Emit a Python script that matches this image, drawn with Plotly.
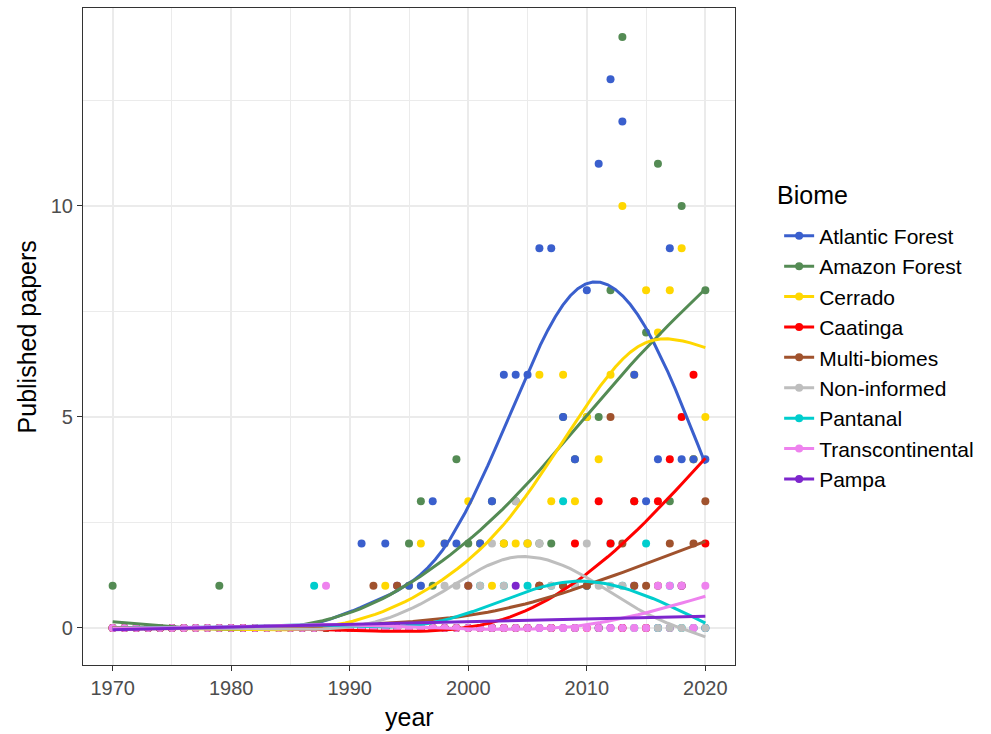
import numpy as np
import plotly.graph_objects as go

years = list(range(1970, 2021))

biomes = ["Atlantic Forest", "Amazon Forest", "Cerrado", "Caatinga", "Multi-biomes",
          "Non-informed", "Pantanal", "Transcontinental", "Pampa"]
colors = ["#3A5FCD", "#548B54", "#FFD700", "#FF0000", "#A0522D",
          "#BEBEBE", "#00CDCD", "#EE82EE", "#7D26CD"]

# yearly counts (all other years are 0);
# some counts are estimated where points overlap each other
atlantic_forest = {1991: 2, 1993: 2, 1995: 1, 1996: 1, 1997: 3, 1998: 2, 1999: 2, 2001: 2,
                   2002: 3, 2003: 6, 2004: 6, 2005: 6, 2006: 9, 2007: 9, 2008: 5, 2009: 4,
                   2010: 8, 2011: 11, 2012: 13, 2013: 12, 2014: 6, 2015: 3, 2016: 4,
                   2017: 9, 2018: 4, 2019: 4, 2020: 4}
amazon_forest = {1970: 1, 1979: 1, 1995: 2, 1996: 3, 1997: 1, 1999: 4, 2000: 2, 2001: 2,
                 2002: 3, 2003: 2, 2004: 3, 2005: 2, 2006: 2, 2007: 2, 2008: 5, 2009: 4,
                 2010: 5, 2011: 5, 2012: 8, 2013: 14, 2014: 3, 2015: 7, 2016: 11, 2017: 3,
                 2018: 10, 2019: 4, 2020: 8}
cerrado = {1993: 1, 1995: 1, 1996: 2, 1998: 2, 2000: 3, 2001: 2, 2002: 1, 2003: 2,
           2004: 2, 2005: 2, 2006: 6, 2007: 3, 2008: 6, 2009: 3, 2010: 5, 2011: 4,
           2012: 6, 2013: 10, 2014: 6, 2015: 8, 2016: 7, 2017: 8, 2018: 9, 2019: 4,
           2020: 5}
caatinga = {2006: 1, 2008: 1, 2009: 2, 2011: 3, 2012: 2, 2014: 3, 2016: 3, 2017: 4,
            2018: 5, 2019: 6, 2020: 2}
multi_biomes = {1992: 1, 1994: 1, 2000: 1, 2006: 1, 2008: 1, 2010: 1, 2012: 5, 2013: 2,
                2014: 1, 2015: 1, 2016: 1, 2017: 2, 2018: 1, 2019: 2, 2020: 3}
non_informed = {1995: 1, 1996: 1, 1998: 1, 1999: 1, 2000: 1, 2001: 1, 2002: 2, 2003: 1,
                2004: 3, 2005: 2, 2006: 2, 2007: 1, 2008: 1, 2009: 1, 2010: 2, 2011: 1,
                2012: 1, 2013: 1}
pantanal = {1987: 1, 2001: 1, 2003: 1, 2005: 1, 2006: 1, 2007: 1, 2008: 3, 2009: 1,
            2010: 1, 2012: 2, 2013: 1, 2015: 2, 2017: 1}
transcontinental = {1988: 1, 2016: 1, 2017: 1, 2018: 1, 2020: 1}
pampa = {1994: 1, 2000: 1, 2004: 1, 2010: 1, 2014: 1, 2018: 1}

series = [atlantic_forest, amazon_forest, cerrado, caatinga, multi_biomes,
          non_informed, pantanal, transcontinental, pampa]


def gam_smooth(x, y, xs, k=10):
    """Penalized cubic regression spline, smoothing chosen by REML."""
    x = np.asarray(x, float)
    y = np.asarray(y, float)
    n = len(x)
    knots = np.linspace(x.min(), x.max(), k)
    h = np.diff(knots)
    D = np.zeros((k - 2, k))
    B = np.zeros((k - 2, k - 2))
    for i in range(k - 2):
        D[i, i] = 1 / h[i]
        D[i, i + 1] = -1 / h[i] - 1 / h[i + 1]
        D[i, i + 2] = 1 / h[i + 1]
        B[i, i] = (h[i] + h[i + 1]) / 3
        if i < k - 3:
            B[i, i + 1] = B[i + 1, i] = h[i + 1] / 6
    BD = np.linalg.solve(B, D)
    F = np.vstack([np.zeros(k), BD, np.zeros(k)])
    S = D.T @ BD

    def basis(xv):
        X = np.zeros((len(xv), k))
        for r, xx in enumerate(xv):
            j = int(np.clip(np.searchsorted(knots, xx, side="right") - 1, 0, k - 2))
            hj = h[j]
            a_m = (knots[j + 1] - xx) / hj
            a_p = (xx - knots[j]) / hj
            c_m = ((knots[j + 1] - xx) ** 3 / hj - hj * (knots[j + 1] - xx)) / 6
            c_p = ((xx - knots[j]) ** 3 / hj - hj * (xx - knots[j])) / 6
            row = c_m * F[j] + c_p * F[j + 1]
            row[j] += a_m
            row[j + 1] += a_p
            X[r] = row
        return X

    X = basis(x)
    ev = np.sort(np.linalg.eigvalsh(S))[2:]
    best = None
    for ll in np.linspace(-12, 16, 561):
        lam = np.exp(ll)
        A = X.T @ X + lam * S
        beta = np.linalg.solve(A, X.T @ y)
        rss = np.sum((y - X @ beta) ** 2)
        pen = lam * beta @ S @ beta
        sig2 = (rss + pen) / (n - 2)
        if sig2 <= 0:
            continue
        vr = (n - 2) / 2 * np.log(sig2) + 0.5 * np.linalg.slogdet(A)[1] \
            - 0.5 * np.sum(np.log(lam * ev))
        if best is None or vr < best[0]:
            best = (vr, beta)
    return basis(xs) @ best[1]


fig = go.Figure()
xs = np.linspace(1970, 2020, 80)

# points (drawn first, in the stacking order seen in the chart)
point_order = [1, 8, 6, 5, 2, 0, 3, 4, 7]
for i in point_order:
    vals = [series[i].get(yr, 0) for yr in years]
    fig.add_trace(go.Scatter(x=years, y=vals, mode="markers",
                             marker=dict(color=colors[i], size=8),
                             showlegend=False, hoverinfo="skip"))

# smooth lines
for i in range(len(biomes)):
    vals = [series[i].get(yr, 0) for yr in years]
    fig.add_trace(go.Scatter(x=xs, y=gam_smooth(years, vals, xs), mode="lines",
                             line=dict(color=colors[i], width=3),
                             showlegend=False, hoverinfo="skip"))

# legend entries
for i, name in enumerate(biomes):
    fig.add_trace(go.Scatter(x=[None], y=[None], mode="lines+markers", name=name,
                             line=dict(color=colors[i], width=3),
                             marker=dict(color=colors[i], size=8),
                             legendgroup=name))

axis_common = dict(showline=True, linecolor="#333333", linewidth=1.1, mirror=True,
                   ticks="outside", ticklen=5, tickcolor="#333333", tickwidth=1.1,
                   gridcolor="#EBEBEB", gridwidth=2, zeroline=False, automargin=False,
                   tickfont=dict(size=20, color="#4D4D4D"))

fig.update_layout(
    width=991, height=734,
    margin=dict(l=83, r=256, t=8, b=69),
    paper_bgcolor="white", plot_bgcolor="white",
    font=dict(family="Liberation Sans, Arial, sans-serif", color="black"),
    xaxis=dict(range=[1967.5, 2022.5], tickvals=[1970, 1980, 1990, 2000, 2010, 2020],
               minor=dict(tickvals=[1975, 1985, 1995, 2005, 2015], showgrid=True,
                          gridcolor="#EBEBEB", gridwidth=1, ticks=""),
               **axis_common),
    yaxis=dict(range=[-0.877, 14.69], tickvals=[0, 5, 10],
               minor=dict(tickvals=[2.5, 7.5, 12.5], showgrid=True,
                          gridcolor="#EBEBEB", gridwidth=1, ticks=""),
               **axis_common),
    legend=dict(x=1.0677, y=0.684, xanchor="left", yanchor="top",
                font=dict(size=21), tracegroupgap=0.1),
    annotations=[
        dict(text="year", xref="paper", yref="paper", x=0.5, y=-0.079,
             xanchor="center", yanchor="middle", showarrow=False, font=dict(size=25)),
        dict(text="Published papers", xref="paper", yref="paper", x=-0.086, y=0.5,
             xanchor="center", yanchor="middle", showarrow=False, textangle=-90,
             font=dict(size=25)),
        dict(text="Biome", xref="paper", yref="paper", x=1.0614, y=0.715,
             xanchor="left", yanchor="middle", showarrow=False, font=dict(size=25)),
    ],
)

fig.write_html("out.html", config={"displayModeBar": False},
               post_script="document.body.style.margin='0px';")
